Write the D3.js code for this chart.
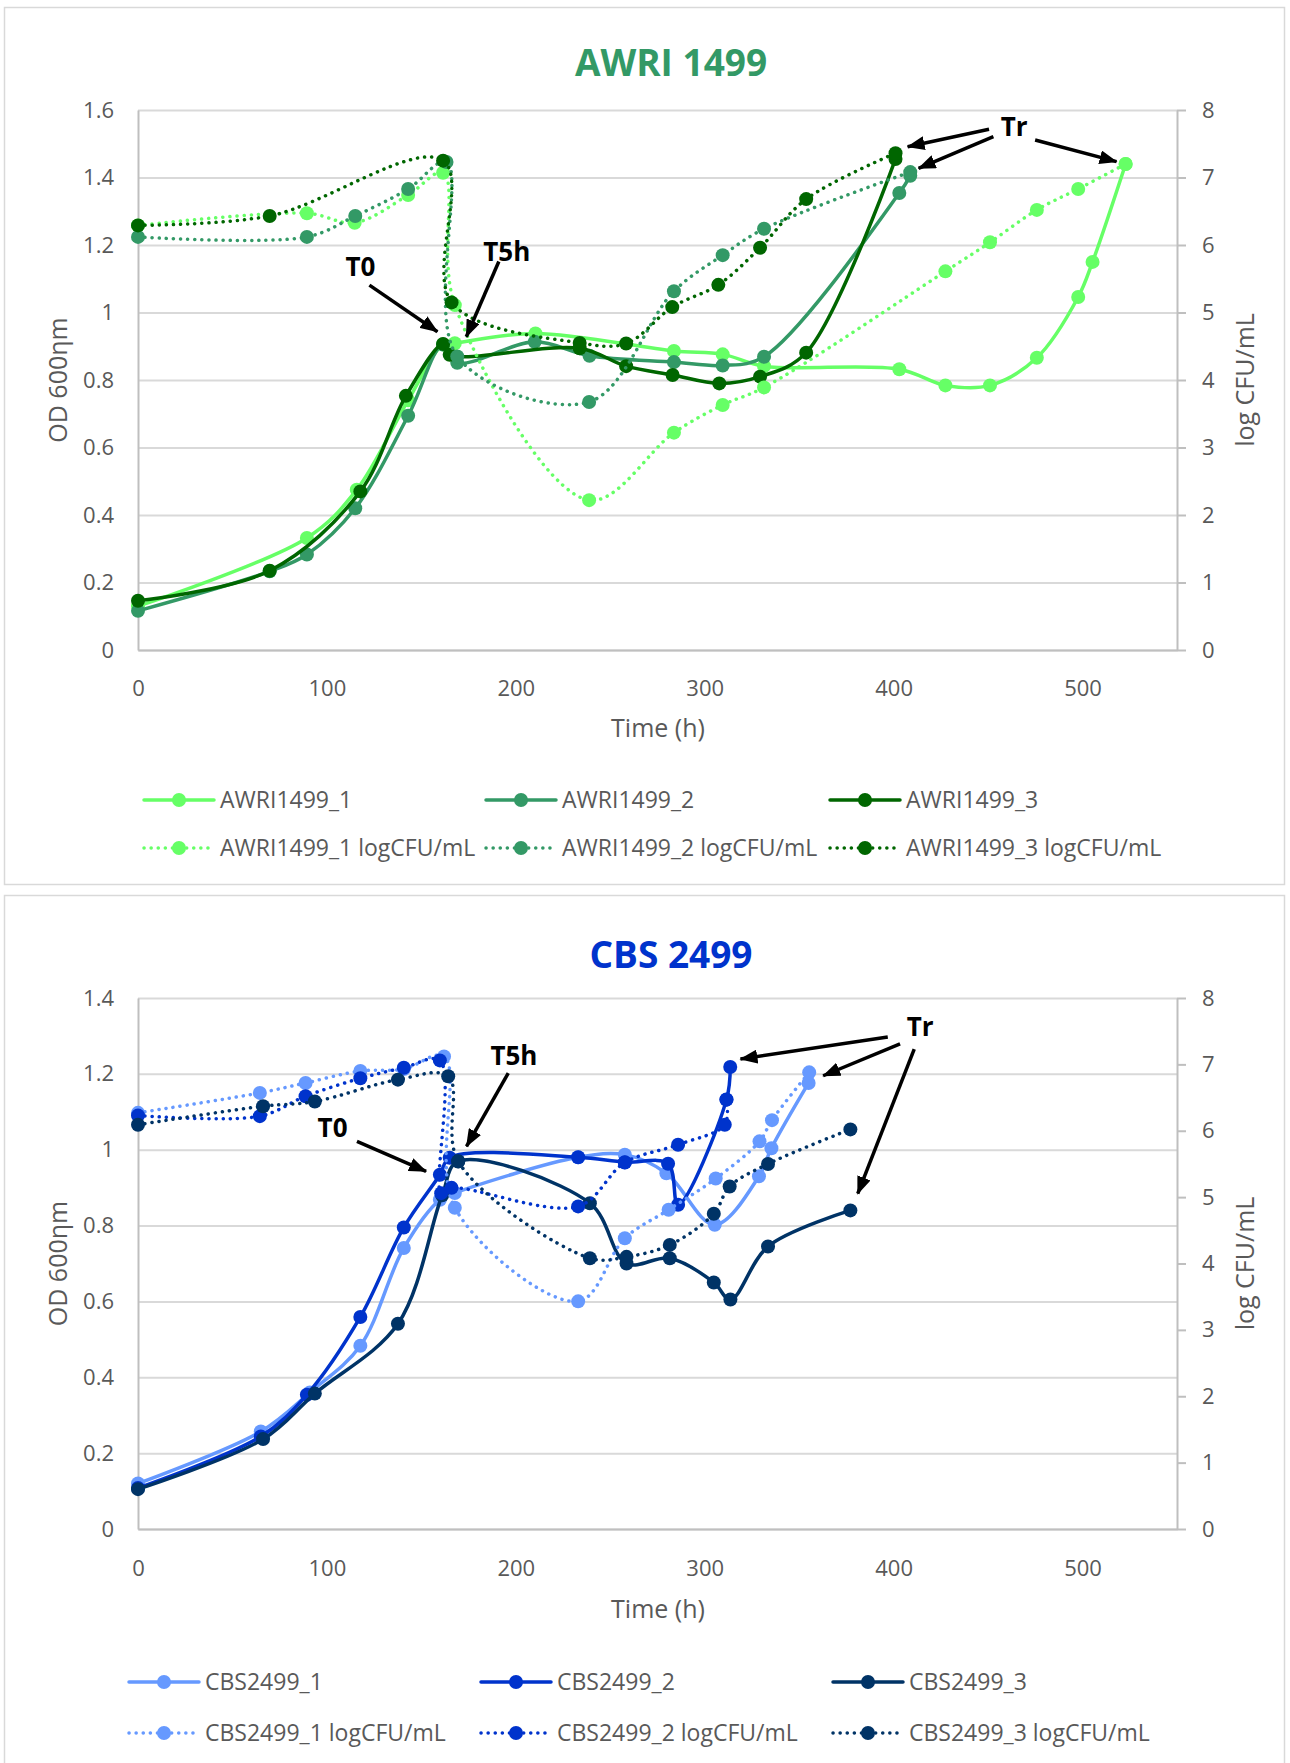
<!DOCTYPE html>
<html>
<head>
<meta charset="utf-8">
<script src="https://cdn.jsdelivr.net/npm/d3@7"></script>
<style>
  body { margin: 0; background: #fff; }
  text { font-family: "Open Sans", "Noto Sans", sans-serif; }
</style>
</head>
<body>
<div id="chart"></div>
<script>
// ---- AWRI 1499 : OD 600 (left axis) ----
const awri1OdTime = [0, 89.4, 115.8, 143, 161.5, 167.7, 210.4, 283.7, 309.5, 331.4, 403, 427.4, 451, 475.8, 497.7, 505.3, 522.8];
const awri1Od     = [0.13, 0.332, 0.475, 0.74, 0.905, 0.909, 0.938, 0.886, 0.876, 0.841, 0.832, 0.784, 0.784, 0.866, 1.046, 1.15, 1.44];
const awri2OdTime = [0, 69.7, 89.4, 115, 143, 161.5, 169, 210, 239, 283.7, 309.5, 331.4, 403, 408.8];
const awri2Od     = [0.116, 0.233, 0.283, 0.42, 0.694, 0.905, 0.851, 0.913, 0.872, 0.853, 0.843, 0.869, 1.354, 1.405];
const awri3OdTime = [0, 69.7, 117.7, 141.8, 161.5, 165, 233.8, 258.4, 283, 307.7, 329.3, 353.7, 401];
const awri3Od     = [0.146, 0.235, 0.47, 0.753, 0.907, 0.875, 0.894, 0.841, 0.815, 0.79, 0.81, 0.881, 1.455];

// ---- AWRI 1499 : logCFU/mL (right axis) ----
const awri1CfuTime = [0, 89.4, 114.7, 143, 161.5, 167.7, 238.8, 283.7, 309.5, 331.4, 427.4, 451, 475.8, 497.7, 522.8];
const awri1Cfu     = [6.29, 6.47, 6.33, 6.74, 7.07, 5.11, 2.22, 3.22, 3.63, 3.89, 5.61, 6.04, 6.52, 6.83, 7.2];
const awri2CfuTime = [0, 89.4, 115, 143, 163.3, 169, 238.8, 283.7, 309.5, 331.4, 408.8];
const awri2Cfu     = [6.12, 6.12, 6.43, 6.83, 7.23, 4.35, 3.675, 5.315, 5.85, 6.24, 7.08];
const awri3CfuTime = [0, 69.7, 161.5, 166, 233.8, 258.4, 282.8, 307.2, 329.3, 353.7, 401];
const awri3Cfu     = [6.29, 6.43, 7.25, 5.15, 4.55, 4.54, 5.08, 5.41, 5.96, 6.68, 7.36];

// ---- CBS 2499 : OD 600 (left axis) ----
const cbs1OdTime = [0, 65, 91, 117.7, 140.7, 159.8, 167.7, 233, 257.7, 279.7, 305.3, 328.7, 335.3, 355];
const cbs1Od     = [0.12, 0.257, 0.36, 0.483, 0.741, 0.868, 0.886, 0.98, 0.987, 0.938, 0.802, 0.93, 1.004, 1.176];
const cbs2OdTime = [0, 65, 89.4, 117.7, 140.7, 159.8, 165, 233, 257.7, 280.6, 285.9, 311.5, 313.5];
const cbs2Od     = [0.108, 0.244, 0.354, 0.559, 0.795, 0.934, 0.979, 0.98, 0.967, 0.963, 0.855, 1.132, 1.218];
const cbs3OdTime = [0, 66.2, 93.6, 137.6, 161, 169.5, 239.2, 258.6, 281.5, 304.8, 313.6, 333.5, 377.1];
const cbs3Od     = [0.105, 0.237, 0.357, 0.541, 0.88, 0.969, 0.859, 0.70, 0.714, 0.65, 0.605, 0.745, 0.84];

// ---- CBS 2499 : logCFU/mL (right axis) ----
const cbs1CfuTime = [0, 64.5, 88.7, 117.7, 140.7, 162, 167.7, 233, 257.7, 280.9, 305.8, 329, 335.6, 355.3];
const cbs1Cfu     = [6.27, 6.57, 6.72, 6.90, 6.93, 7.12, 4.84, 3.43, 4.38, 4.81, 5.28, 5.84, 6.16, 6.88];
const cbs2CfuTime = [0, 64.5, 88.7, 117.7, 140.7, 159.8, 160.5, 166, 233, 257.7, 285.9, 310.6, 311.5];
const cbs2Cfu     = [6.23, 6.22, 6.52, 6.79, 6.95, 7.06, 5.06, 5.14, 4.86, 5.52, 5.79, 6.09, 6.47];
const cbs3CfuTime = [0, 66.2, 93.6, 137.6, 164.2, 169.5, 239.2, 258.6, 281.5, 304.8, 313.2, 333.5, 377.1];
const cbs3Cfu     = [6.09, 6.37, 6.44, 6.77, 6.82, 5.54, 4.08, 4.1, 4.28, 4.75, 5.16, 5.50, 6.02];

// axis ticks
const timeTicks = [0, 100, 200, 300, 400, 500];
const awriOdTicks = [0, 0.2, 0.4, 0.6, 0.8, 1, 1.2, 1.4, 1.6];
const cbsOdTicks = [0, 0.2, 0.4, 0.6, 0.8, 1, 1.2, 1.4];
const cfuTicks = [0, 1, 2, 3, 4, 5, 6, 7, 8];

// annotations (time, OD)
const awriNoteLabels = ['T0', 'T5h', 'Tr'];
const awriNotePos = [[117.7, 1.136], [195.2, 1.18], [463.8, 1.55]];
const awriArrows = [
  [[122.5, 1.081], [158.5, 0.943]],
  [[191, 1.151], [173.8, 0.928]],
  [[450.5, 1.543], [407.4, 1.491]],
  [[452.8, 1.521], [413.2, 1.427]],
  [[474.9, 1.511], [518, 1.447]]
];
const cbsNoteLabels = ['T0', 'T5h', 'Tr'];
const cbsNotePos = [[103, 1.058], [199, 1.248], [414, 1.324]];
const cbsArrows = [
  [[115.9, 1.022], [152.5, 0.943]],
  [[196, 1.202], [173.9, 1.009]],
  [[396.9, 1.297], [318.9, 1.239]],
  [[403.4, 1.279], [362.7, 1.195]],
  [[410.9, 1.265], [381, 0.884]]
];

const width = 1290;
const height = 1763;

const svg = d3.select('#chart')
    .append('svg')
    .attr('width', width)
    .attr('height', height);

svg.append('defs').append('marker')
    .attr('id', 'arrowhead')
    .attr('markerUnits', 'userSpaceOnUse')
    .attr('viewBox', '0 0 18 14')
    .attr('refX', 17)
    .attr('refY', 7)
    .attr('markerWidth', 18)
    .attr('markerHeight', 14)
    .attr('orient', 'auto')
    .append('path')
    .attr('d', 'M0,0 L18,7 L0,14 Z')
    .attr('fill', '#000');

const zip = (t, v) => t.map((d, i) => [d, v[i]]);

const awriSeries = [
  { name: 'AWRI1499_1', color: '#66ff66', pts: zip(awri1OdTime, awri1Od), right: false },
  { name: 'AWRI1499_2', color: '#339966', pts: zip(awri2OdTime, awri2Od), right: false },
  { name: 'AWRI1499_3', color: '#006600', pts: zip(awri3OdTime, awri3Od), right: false },
  { name: 'AWRI1499_1 logCFU/mL', color: '#66ff66', pts: zip(awri1CfuTime, awri1Cfu), right: true },
  { name: 'AWRI1499_2 logCFU/mL', color: '#339966', pts: zip(awri2CfuTime, awri2Cfu), right: true },
  { name: 'AWRI1499_3 logCFU/mL', color: '#006600', pts: zip(awri3CfuTime, awri3Cfu), right: true }
];

const cbsSeries = [
  { name: 'CBS2499_1', color: '#6699ff', pts: zip(cbs1OdTime, cbs1Od), right: false },
  { name: 'CBS2499_2', color: '#0033cc', pts: zip(cbs2OdTime, cbs2Od), right: false },
  { name: 'CBS2499_3', color: '#003366', pts: zip(cbs3OdTime, cbs3Od), right: false },
  { name: 'CBS2499_1 logCFU/mL', color: '#6699ff', pts: zip(cbs1CfuTime, cbs1Cfu), right: true },
  { name: 'CBS2499_2 logCFU/mL', color: '#0033cc', pts: zip(cbs2CfuTime, cbs2Cfu), right: true },
  { name: 'CBS2499_3 logCFU/mL', color: '#003366', pts: zip(cbs3CfuTime, cbs3Cfu), right: true }
];

function drawPanel(p) {
    const g = svg.append('g');

    g.append('rect')
        .attr('x', 4.5).attr('y', p.boxTop + 0.5)
        .attr('width', 1280).attr('height', p.boxBottom - p.boxTop)
        .attr('fill', '#fff')
        .attr('stroke', '#d9d9d9')
        .attr('stroke-width', 1.5);

    const x = d3.scaleLinear().domain([0, 550]).range([138, 1177]);
    const y = d3.scaleLinear().domain([0, p.odMax]).range([p.plotBottom, p.plotTop]);
    const yR = d3.scaleLinear().domain([0, 8]).range([p.plotBottom, p.plotTop]);

    // gridlines
    g.append('g')
        .attr('transform', 'translate(138,0)')
        .call(d3.axisLeft(y).tickValues(p.odTicks).tickSize(-(1177 - 138)).tickFormat(''))
        .call(a => a.select('.domain').remove())
        .call(a => a.selectAll('line').attr('stroke', '#d9d9d9').attr('stroke-width', 2));

    // left axis
    g.append('g')
        .attr('transform', 'translate(138,0)')
        .call(d3.axisLeft(y).tickValues(p.odTicks).tickSize(0).tickPadding(24)
            .tickFormat(d => String(+d.toFixed(1))))
        .call(a => a.select('.domain').attr('stroke', '#bfbfbf').attr('stroke-width', 2))
        .call(a => a.selectAll('text').attr('font-size', 22).attr('fill', '#595959')
            .style('font-family', '"Open Sans", sans-serif'));

    // right axis
    g.append('g')
        .attr('transform', 'translate(1177,0)')
        .call(d3.axisRight(yR).tickValues(cfuTicks).tickSizeInner(9).tickSizeOuter(0).tickPadding(16))
        .call(a => a.select('.domain').attr('stroke', '#bfbfbf').attr('stroke-width', 2))
        .call(a => a.selectAll('line').attr('stroke', '#bfbfbf').attr('stroke-width', 2))
        .call(a => a.selectAll('text').attr('font-size', 22).attr('fill', '#595959')
            .style('font-family', '"Open Sans", sans-serif'));

    // bottom axis
    g.append('g')
        .attr('transform', `translate(0,${p.plotBottom})`)
        .call(d3.axisBottom(x).tickValues(timeTicks).tickSize(0).tickPadding(p.xPad))
        .call(a => a.select('.domain').attr('stroke', '#bfbfbf').attr('stroke-width', 2))
        .call(a => a.selectAll('text').attr('font-size', 22).attr('fill', '#595959')
            .style('font-family', '"Open Sans", sans-serif'));

    // titles
    g.append('text')
        .attr('x', 671).attr('y', p.titleY)
        .attr('text-anchor', 'middle')
        .attr('font-size', 37).attr('font-weight', 'bold')
        .attr('fill', p.titleColor)
        .text(p.title);

    g.append('text')
        .attr('x', 658).attr('y', p.timeY)
        .attr('text-anchor', 'middle')
        .attr('font-size', 25).attr('fill', '#595959')
        .text('Time (h)');

    const midY = (p.plotTop + p.plotBottom) / 2;
    g.append('text')
        .attr('transform', `translate(67,${midY}) rotate(-90)`)
        .attr('text-anchor', 'middle')
        .attr('font-size', 25).attr('fill', '#595959')
        .text('OD 600ηm');

    g.append('text')
        .attr('transform', `translate(1254,${midY}) rotate(-90)`)
        .attr('text-anchor', 'middle')
        .attr('font-size', 25).attr('fill', '#595959')
        .text('log CFU/mL');

    // series
    const curve = d3.curveCatmullRom.alpha(0.5);
    p.series.forEach(s => {
        const sy = s.right ? yR : y;
        const line = d3.line().curve(curve).x(d => x(d[0])).y(d => sy(d[1]));
        const sg = g.append('g');
        sg.append('path')
            .attr('d', line(s.pts))
            .attr('fill', 'none')
            .attr('stroke', s.color)
            .attr('stroke-width', 3.5)
            .attr('stroke-linecap', 'round')
            .attr('stroke-linejoin', 'round')
            .attr('stroke-dasharray', s.right ? '0.1 7' : null);
        sg.selectAll('circle')
            .data(s.pts)
            .enter()
            .append('circle')
            .attr('cx', d => x(d[0]))
            .attr('cy', d => sy(d[1]))
            .attr('r', 7)
            .attr('fill', s.color);
    });

    // annotations
    p.noteLabels.forEach((lab, i) => {
        g.append('text')
            .attr('x', x(p.notePos[i][0]))
            .attr('y', y(p.notePos[i][1]))
            .attr('dy', '0.36em')
            .attr('text-anchor', 'middle')
            .attr('font-size', 26).attr('font-weight', 'bold')
            .attr('fill', '#000')
            .text(lab);
    });
    p.arrows.forEach(a => {
        g.append('line')
            .attr('x1', x(a[0][0])).attr('y1', y(a[0][1]))
            .attr('x2', x(a[1][0])).attr('y2', y(a[1][1]))
            .attr('stroke', '#000')
            .attr('stroke-width', 3.5)
            .attr('marker-end', 'url(#arrowhead)');
    });

    // legend
    p.series.forEach((s, i) => {
        const lx = p.legendX[i % 3];
        const ly = p.legendY[Math.floor(i / 3)];
        const lg = g.append('g');
        lg.append('line')
            .attr('x1', lx).attr('x2', lx + 70)
            .attr('y1', ly).attr('y2', ly)
            .attr('stroke', s.color)
            .attr('stroke-width', 3.5)
            .attr('stroke-linecap', 'round')
            .attr('stroke-dasharray', s.right ? '0.1 7' : null);
        lg.append('circle')
            .attr('cx', lx + 35).attr('cy', ly).attr('r', 7)
            .attr('fill', s.color);
        lg.append('text')
            .attr('x', lx + 76).attr('y', ly)
            .attr('dy', '0.35em')
            .attr('font-size', 23).attr('fill', '#595959')
            .text(s.name);
    });
}

drawPanel({
    boxTop: 7, boxBottom: 884,
    plotTop: 110, plotBottom: 650,
    odMax: 1.6, odTicks: awriOdTicks,
    xPad: 30, titleY: 76, timeY: 737,
    title: 'AWRI 1499', titleColor: '#339966',
    series: awriSeries,
    noteLabels: awriNoteLabels, notePos: awriNotePos, arrows: awriArrows,
    legendX: [144, 486, 830], legendY: [800, 848]
});

drawPanel({
    boxTop: 895, boxBottom: 1775,
    plotTop: 998, plotBottom: 1529,
    odMax: 1.4, odTicks: cbsOdTicks,
    xPad: 31, titleY: 968, timeY: 1618,
    title: 'CBS 2499', titleColor: '#0033cc',
    series: cbsSeries,
    noteLabels: cbsNoteLabels, notePos: cbsNotePos, arrows: cbsArrows,
    legendX: [129, 481, 833], legendY: [1682, 1733]
});
</script>
</body>
</html>
